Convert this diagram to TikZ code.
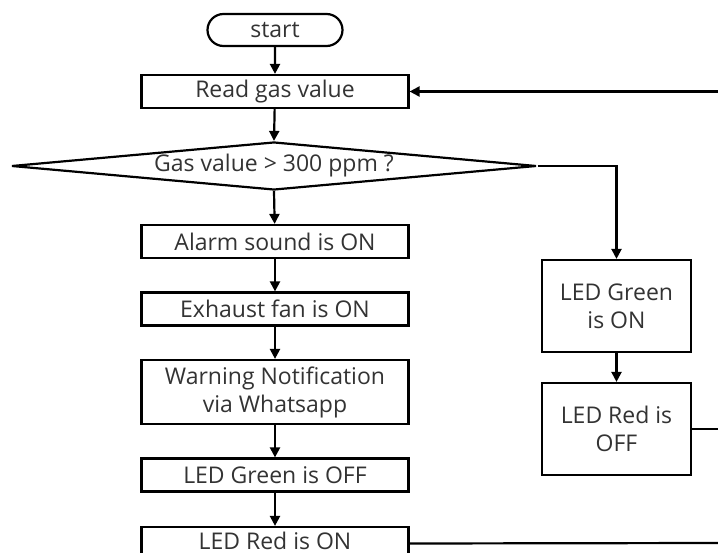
\documentclass[tikz,border=0pt]{standalone}
\usepackage{fontspec}
\setmainfont{Open Sans}[Ligatures=NoCommon]
\usetikzlibrary{shapes.geometric,shapes.misc,arrows.meta}
\definecolor{txt}{HTML}{333333}
\begin{document}
\begin{tikzpicture}[x=1pt,y=-1pt,
  every node/.style={font=\fontsize{23}{28}\selectfont,text=txt},
  box/.style={draw,line width=2.2pt,rectangle,inner sep=0pt,align=center},
  lbox/.style={box,minimum width=267pt,minimum height=33pt},
  rbox/.style={box,minimum width=149pt,minimum height=92pt},
  conn/.style={line width=2.2pt},
  arr/.style={conn,-{Triangle[length=10pt,width=10pt]}}]
\useasboundingbox (0,0) rectangle (718,553);
\node[draw,line width=2.2pt,rounded rectangle,minimum width=135pt,minimum height=32pt,inner sep=0pt] (start) at (275,30) {start};
\node[lbox] (read) at (275,91.5) {Read gas value};
\node[draw,line width=2.2pt,diamond,minimum width=525pt,minimum height=48pt,inner sep=0pt,aspect=11] (dec) at (274,166) {Gas value > 300 ppm ?};
\node[lbox] (alarm) at (275,241.5) {Alarm sound is ON};
\node[lbox] (fan) at (275,309) {Exhaust fan is ON};
\node[lbox,minimum height=64pt] (warn) at (275,392) {Warning Notification\\ via Whatsapp};
\node[lbox] (goff) at (275,475) {LED Green is OFF};
\node[lbox] (ron) at (275,543.5) {\raisebox{5pt}{LED Red is ON}};
\node[rbox] (gon) at (616.5,306) {LED Green\\ is ON};
\node[rbox] (roff) at (616.5,429) {LED Red is\\ OFF};
\coordinate (loopin) at (720,91.5);
\coordinate (roffout) at (720,429);
\coordinate (ronout) at (720,543);
\draw[arr] (start) -- (read);
\draw[arr] (loopin) -- (read.east);
\draw[arr] (read) -- (dec.north);
\draw[arr] (dec.south) -- (alarm);
\draw[arr] (dec.east) -| (gon.north);
\draw[arr] (alarm) -- (fan);
\draw[arr] (fan) -- (warn);
\draw[arr] (warn) -- (goff);
\draw[arr] (goff) -- (ron);
\draw[arr] (gon) -- (roff);
\draw[conn] (roff.east) -- (roffout);
\draw[conn] (ron.east) -- (ronout);
\end{tikzpicture}
\end{document}
